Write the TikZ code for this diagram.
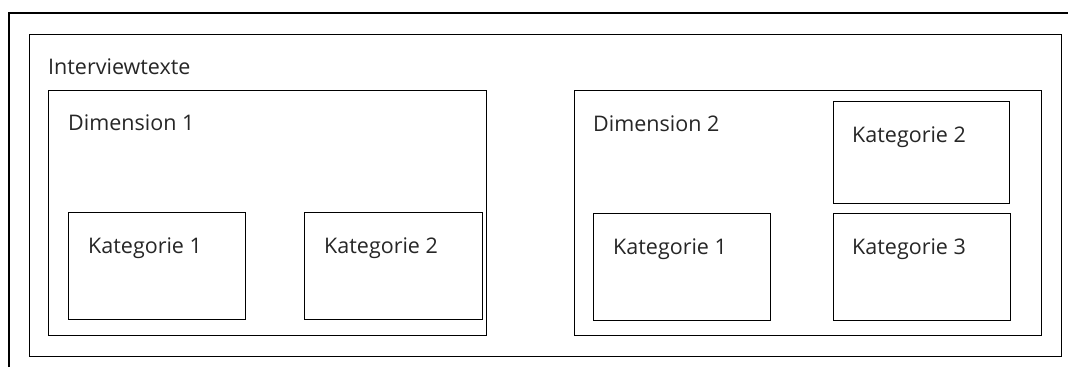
\documentclass[tikz,border=0pt]{standalone}
\usepackage{fontspec}
\setmainfont{Open Sans}
\usetikzlibrary{positioning}
\tikzstyle{rahmen} = [draw=black, line width=1.4pt]
\tikzstyle{box} = [rectangle, rahmen, anchor=north west, inner sep=0pt]
\tikzstyle{kat} = [box, minimum width=177pt, minimum height=107pt]
\tikzstyle{titel} = [anchor=base west, inner sep=0pt, text=black!85, font=\fontsize{21.5}{25}\selectfont]

\begin{document}
\begin{tikzpicture}[x=1pt, y=-1pt]
  \useasboundingbox (0,0) rectangle (1068,367);
  % offener Aussenrahmen
  \coordinate (ecke) at (9,13);
  \draw [rahmen] (9,367) -- (ecke) -- (1068,13);
  \node (texte) [box, minimum width=1032pt, minimum height=322pt] at (29,34) {};
  \node (dim1) [box, minimum width=438pt, minimum height=245pt] at (48,90) {};
  \node (dim2) [box, minimum width=467pt, minimum height=245pt] at (574,90) {};
  \node (d1k1) [kat] at (68,212) {};
  \node (d1k2) [kat, minimum width=178pt] at (304,212) {};
  \node (d2k1) [kat] at (593,213) {};
  \node (d2k2) [kat, minimum width=176pt, minimum height=102pt] at (833,101) {};
  \node (d2k3) [kat] at (833,213) {};
  % Beschriftungen oben links in den Kaesten
  \node (texteT) [titel] at ([shift={(19,40)}]texte.north west) {Interviewtexte};
  \node (dim1T) [titel] at ([shift={(20,40)}]dim1.north west) {Dimension 1};
  \node (dim2T) [titel] at ([shift={(19,41)}]dim2.north west) {Dimension 2};
  \node (d1k1T) [titel] at ([shift={(20,41)}]d1k1.north west) {Kategorie 1};
  \node (d1k2T) [titel] at ([shift={(20,41)}]d1k2.north west) {Kategorie 2};
  \node (d2k1T) [titel] at ([shift={(20,41)}]d2k1.north west) {Kategorie 1};
  \node (d2k2T) [titel] at ([shift={(19,41)}]d2k2.north west) {Kategorie 2};
  \node (d2k3T) [titel] at ([shift={(19,41)}]d2k3.north west) {Kategorie 3};
\end{tikzpicture}
\end{document}
